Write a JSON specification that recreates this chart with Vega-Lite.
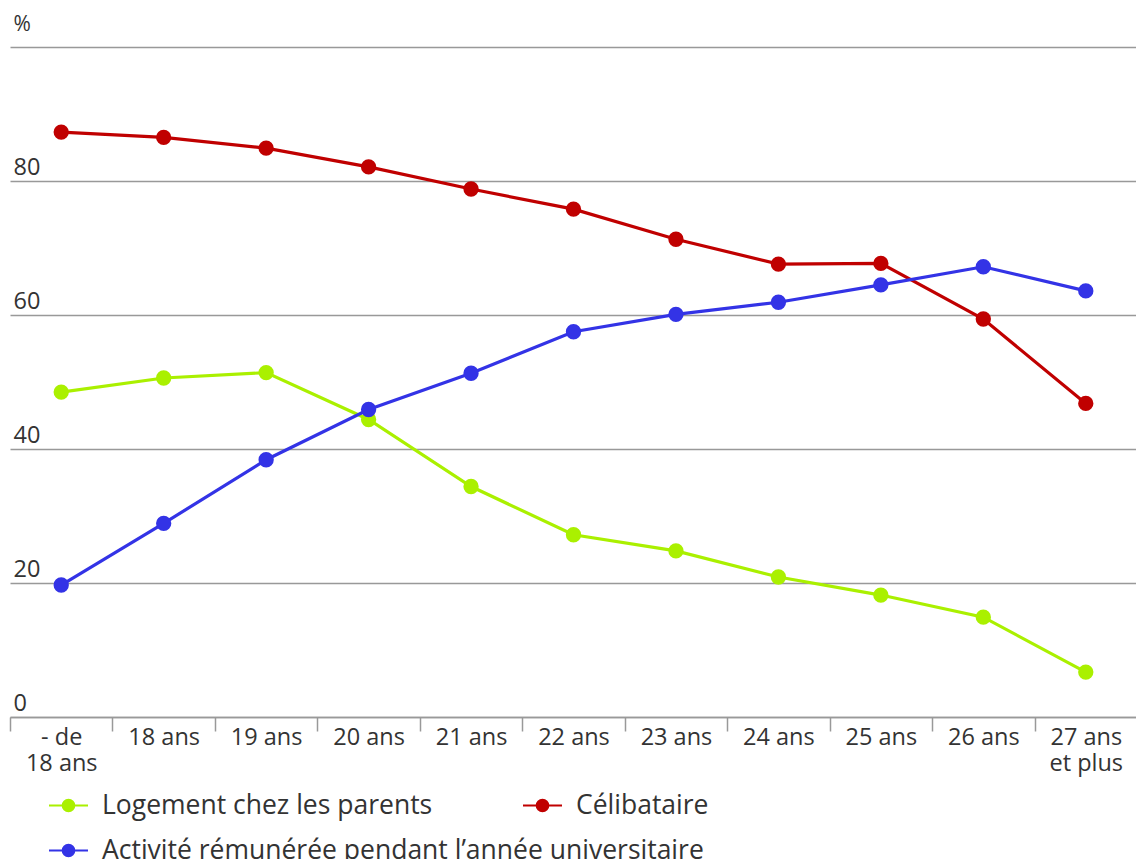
{
  "$schema": "https://vega.github.io/schema/vega-lite/v6.json",
  "width": 1127,
  "height": 670,
  "autosize": {"type": "none"},
  "padding": {"left": 10, "top": 47, "right": 0, "bottom": 142},
  "background": "white",
  "data": {
    "values": [
      {"age": "- de|18 ans", "serie": "Logement chez les parents", "valeur": 48.5},
      {"age": "18 ans", "serie": "Logement chez les parents", "valeur": 50.6},
      {"age": "19 ans", "serie": "Logement chez les parents", "valeur": 51.4},
      {"age": "20 ans", "serie": "Logement chez les parents", "valeur": 44.4},
      {"age": "21 ans", "serie": "Logement chez les parents", "valeur": 34.4},
      {"age": "22 ans", "serie": "Logement chez les parents", "valeur": 27.2},
      {"age": "23 ans", "serie": "Logement chez les parents", "valeur": 24.8},
      {"age": "24 ans", "serie": "Logement chez les parents", "valeur": 20.9},
      {"age": "25 ans", "serie": "Logement chez les parents", "valeur": 18.2},
      {"age": "26 ans", "serie": "Logement chez les parents", "valeur": 14.9},
      {"age": "27 ans|et plus", "serie": "Logement chez les parents", "valeur": 6.7},
      {"age": "- de|18 ans", "serie": "Célibataire", "valeur": 87.3},
      {"age": "18 ans", "serie": "Célibataire", "valeur": 86.5},
      {"age": "19 ans", "serie": "Célibataire", "valeur": 84.9},
      {"age": "20 ans", "serie": "Célibataire", "valeur": 82.1},
      {"age": "21 ans", "serie": "Célibataire", "valeur": 78.8},
      {"age": "22 ans", "serie": "Célibataire", "valeur": 75.8},
      {"age": "23 ans", "serie": "Célibataire", "valeur": 71.3},
      {"age": "24 ans", "serie": "Célibataire", "valeur": 67.6},
      {"age": "25 ans", "serie": "Célibataire", "valeur": 67.7},
      {"age": "26 ans", "serie": "Célibataire", "valeur": 59.4},
      {"age": "27 ans|et plus", "serie": "Célibataire", "valeur": 46.8},
      {"age": "- de|18 ans", "serie": "Activité rémunérée pendant l’année universitaire", "valeur": 19.7},
      {"age": "18 ans", "serie": "Activité rémunérée pendant l’année universitaire", "valeur": 28.9},
      {"age": "19 ans", "serie": "Activité rémunérée pendant l’année universitaire", "valeur": 38.4},
      {"age": "20 ans", "serie": "Activité rémunérée pendant l’année universitaire", "valeur": 45.9},
      {"age": "21 ans", "serie": "Activité rémunérée pendant l’année universitaire", "valeur": 51.3},
      {"age": "22 ans", "serie": "Activité rémunérée pendant l’année universitaire", "valeur": 57.5},
      {"age": "23 ans", "serie": "Activité rémunérée pendant l’année universitaire", "valeur": 60.1},
      {"age": "24 ans", "serie": "Activité rémunérée pendant l’année universitaire", "valeur": 61.9},
      {"age": "25 ans", "serie": "Activité rémunérée pendant l’année universitaire", "valeur": 64.5},
      {"age": "26 ans", "serie": "Activité rémunérée pendant l’année universitaire", "valeur": 67.2},
      {"age": "27 ans|et plus", "serie": "Activité rémunérée pendant l’année universitaire", "valeur": 63.6}
    ]
  },
  "config": {
    "view": {"stroke": null},
    "font": "Open Sans"
  },
  "encoding": {
    "x": {
      "field": "age",
      "type": "nominal",
      "sort": ["- de|18 ans", "18 ans", "19 ans", "20 ans", "21 ans", "22 ans", "23 ans", "24 ans", "25 ans", "26 ans", "27 ans|et plus"],
      "scale": {"type": "band", "paddingInner": 0, "paddingOuter": 0},
      "bandPosition": 0.5,
      "axis": {
        "title": null,
        "labelAngle": 0,
        "labelExpr": "split(datum.label, '|')",
        "labelFont": "Open Sans",
        "labelFontSize": 23.5,
        "labelColor": "#333333",
        "labelBaseline": "top",
        "labelPadding": -6,
        "labelLineHeight": 26,
        "labelAlign": "center",
        "tickBand": "extent",
        "tickSize": 14,
        "tickColor": "#999999",
        "tickWidth": 1.5,
        "domainColor": "#999999",
        "domainWidth": 1.5,
        "grid": false,
        "labelLimit": 200
      }
    },
    "y": {
      "field": "valeur",
      "type": "quantitative",
      "scale": {"domain": [0, 100], "nice": false},
      "axis": {
        "title": "%",
        "titleAngle": 0,
        "titleX": 3,
        "titleY": -17,
        "titleAlign": "left",
        "titleBaseline": "alphabetic",
        "titleFont": "Open Sans",
        "titleFontSize": 21,
        "titleFontWeight": "normal",
        "titleColor": "#333333",
        "values": [0, 20, 40, 60, 80, 100],
        "labelExpr": "datum.value == 100 ? '' : datum.label",
        "domain": false,
        "ticks": false,
        "tickSize": 0,
        "labelAlign": "left",
        "labelPadding": -3,
        "labelBaseline": "alphabetic",
        "labelOffset": -7,
        "labelFont": "Open Sans",
        "labelFontSize": 23.5,
        "labelColor": "#333333",
        "grid": true,
        "gridColor": "#999999",
        "gridWidth": 1.5
      }
    },
    "color": {
      "field": "serie",
      "type": "nominal",
      "scale": {
        "domain": ["Logement chez les parents", "Célibataire", "Activité rémunérée pendant l’année universitaire"],
        "range": ["#aaf000", "#c00000", "#3333e6"]
      },
      "legend": {
        "title": null,
        "orient": "none",
        "legendX": 38,
        "legendY": 738,
        "direction": "horizontal",
        "columns": 2,
        "gridAlign": "none",
        "columnPadding": -185,
        "rowPadding": 11,
        "padding": 0,
        "symbolType": "M-1,0H1M-0.3,0A0.3,0.3,0,1,0,0.3,0A0.3,0.3,0,1,0,-0.3,0Z",
        "symbolSize": 1521,
        "symbolStrokeWidth": 2,
        "labelFont": "Open Sans",
        "labelFontSize": 26.5,
        "labelColor": "#333333",
        "labelOffset": 13,
        "labelLimit": 800,
        "encode": {
          "symbols": {
            "update": {
              "fill": {"scale": "color", "field": "value"},
              "stroke": {"scale": "color", "field": "value"},
              "fillOpacity": {"value": 1},
              "opacity": {"value": 1}
            }
          }
        }
      }
    }
  },
  "layer": [
    {"mark": {"type": "line", "strokeWidth": 3.2, "interpolate": "linear"}},
    {"mark": {"type": "point", "filled": true, "size": 235, "opacity": 1, "shape": "circle"}}
  ]
}
